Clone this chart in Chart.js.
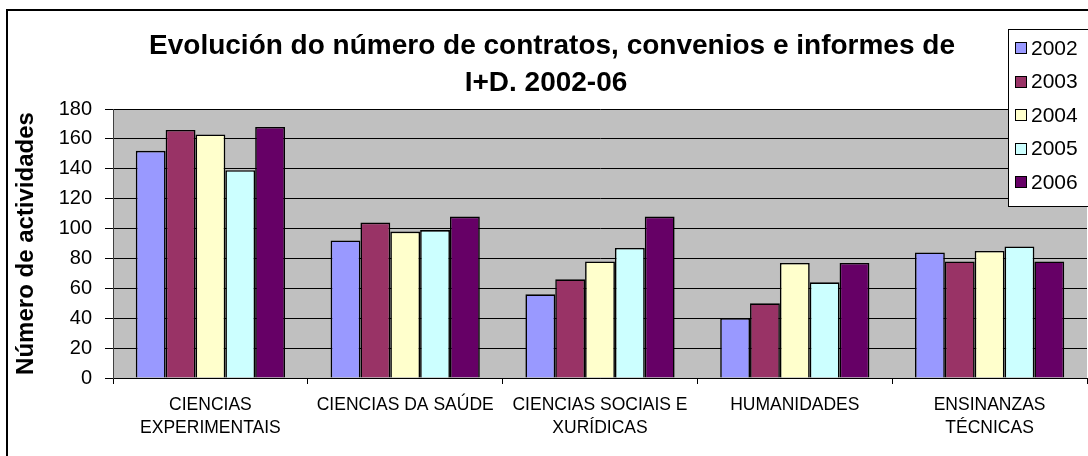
<!DOCTYPE html>
<html>
<head>
<meta charset="utf-8">
<script src="https://cdn.jsdelivr.net/npm/chart.js@4/dist/chart.umd.min.js"></script>
<style>
  html, body { margin: 0; padding: 0; background: #ffffff; }
  #wrap { position: relative; width: 1088px; height: 456px; }
  canvas { display: block; }
</style>
</head>
<body>
<div id="wrap"><canvas id="c" width="1088" height="456"></canvas></div>
<script>
const titleLines = ["Evolución do número de contratos, convenios e informes de", "I+D. 2002-06"];
const yAxisTitle = "Número de actividades";
const categories = [
  ["CIENCIAS", "EXPERIMENTAIS"],
  ["CIENCIAS DA SAÚDE"],
  ["CIENCIAS SOCIAIS E", "XURÍDICAS"],
  ["HUMANIDADES"],
  ["ENSINANZAS", "TÉCNICAS"]
];
const seriesNames = ["2002", "2003", "2004", "2005", "2006"];
const v2002 = [152, 92, 56, 40, 84];
const v2003 = [166, 104, 66, 50, 78];
const v2004 = [163, 98, 78, 77, 85];
const v2005 = [139, 99, 87, 64, 88];
const v2006 = [168, 108, 108, 77, 78];
const seriesColors = ["#9999FF", "#993366", "#FFFFCC", "#CCFFFF", "#660066"];
const yTicks = [0, 20, 40, 60, 80, 100, 120, 140, 160, 180];

const FONT = "'Liberation Sans', Arial, Helvetica, sans-serif";
const seriesValues = [v2002, v2003, v2004, v2005, v2006];

const decor = {
  id: 'decor',
  beforeDraw(chart) {
    const {ctx, chartArea: a} = chart;
    ctx.save();
    ctx.fillStyle = '#ffffff';
    ctx.fillRect(0, 0, chart.width, chart.height);
    ctx.fillStyle = '#C0C0C0';
    ctx.fillRect(a.left, a.top, a.right - a.left, a.bottom - a.top);
    ctx.restore();
  },
  afterDraw(chart) {
    const ctx = chart.ctx;
    ctx.save();
    // outer frame
    ctx.strokeStyle = '#000000';
    ctx.lineWidth = 2;
    ctx.beginPath();
    ctx.moveTo(7, 460);
    ctx.lineTo(7, 10);
    ctx.lineTo(1100, 10);
    ctx.stroke();
    // title
    ctx.fillStyle = '#000000';
    ctx.font = "bold 28px " + FONT;
    ctx.textAlign = 'center';
    ctx.textBaseline = 'alphabetic';
    ctx.fillText(titleLines[0], 552, 54);
    ctx.fillText(titleLines[1], 546, 91);
    // legend
    ctx.fillStyle = '#ffffff';
    ctx.fillRect(1008, 29, 100, 178);
    ctx.strokeStyle = '#000000';
    ctx.lineWidth = 1;
    ctx.strokeRect(1008.5, 29.5, 100, 177);
    ctx.font = "21px " + FONT;
    ctx.textAlign = 'left';
    ctx.textBaseline = 'middle';
    seriesNames.forEach((n, i) => {
      const cy = 48 + i * 33.5;
      ctx.fillStyle = seriesColors[i];
      ctx.fillRect(1015, Math.round(cy - 6), 12, 12);
      ctx.strokeStyle = '#000000';
      ctx.strokeRect(1015.5, Math.round(cy - 6) + 0.5, 11, 11);
      ctx.fillStyle = '#000000';
      ctx.fillText(n, 1031, cy + 1);
    });
    ctx.restore();
  }
};

new Chart(document.getElementById('c'), {
  type: 'bar',
  data: {
    labels: categories,
    datasets: seriesNames.map((n, i) => ({
      label: n,
      data: seriesValues[i],
      backgroundColor: seriesColors[i],
      borderColor: '#000000',
      borderWidth: 1.6,
      borderSkipped: 'bottom',
      categoryPercentage: 0.766,
      barPercentage: 1.0
    }))
  },
  options: {
    responsive: false,
    animation: false,
    devicePixelRatio: 1,
    layout: { padding: { top: 109, right: 1, left: 0, bottom: 0 } },
    plugins: { legend: { display: false }, title: { display: false }, tooltip: { enabled: false } },
    scales: {
      x: {
        afterFit(s) { s.height = 78; },
        grid: { offset: true, drawOnChartArea: false, drawTicks: true, tickLength: 6, color: '#000000' },
        border: { display: true, color: '#000000', width: 1 },
        ticks: { color: '#000000', font: { family: FONT, size: 17.5, lineHeight: 1.3 }, padding: 10, autoSkip: false, maxRotation: 0 }
      },
      y: {
        min: 0, max: 180,
        afterFit(s) { s.width = 113; },
        afterBuildTicks(s) { s.ticks = yTicks.map(v => ({ value: v })); },
        grid: { color: '#000000', lineWidth: 1, drawTicks: true, tickLength: 8 },
        border: { display: true, color: '#404040', width: 1 },
        ticks: { color: '#000000', font: { family: FONT, size: 20 }, padding: 13 },
        title: { display: true, text: yAxisTitle, color: '#000000', font: { family: FONT, size: 24, weight: 'bold' }, padding: { top: 12, bottom: 0 } }
      }
    }
  },
  plugins: [decor]
});
</script>
</body>
</html>
